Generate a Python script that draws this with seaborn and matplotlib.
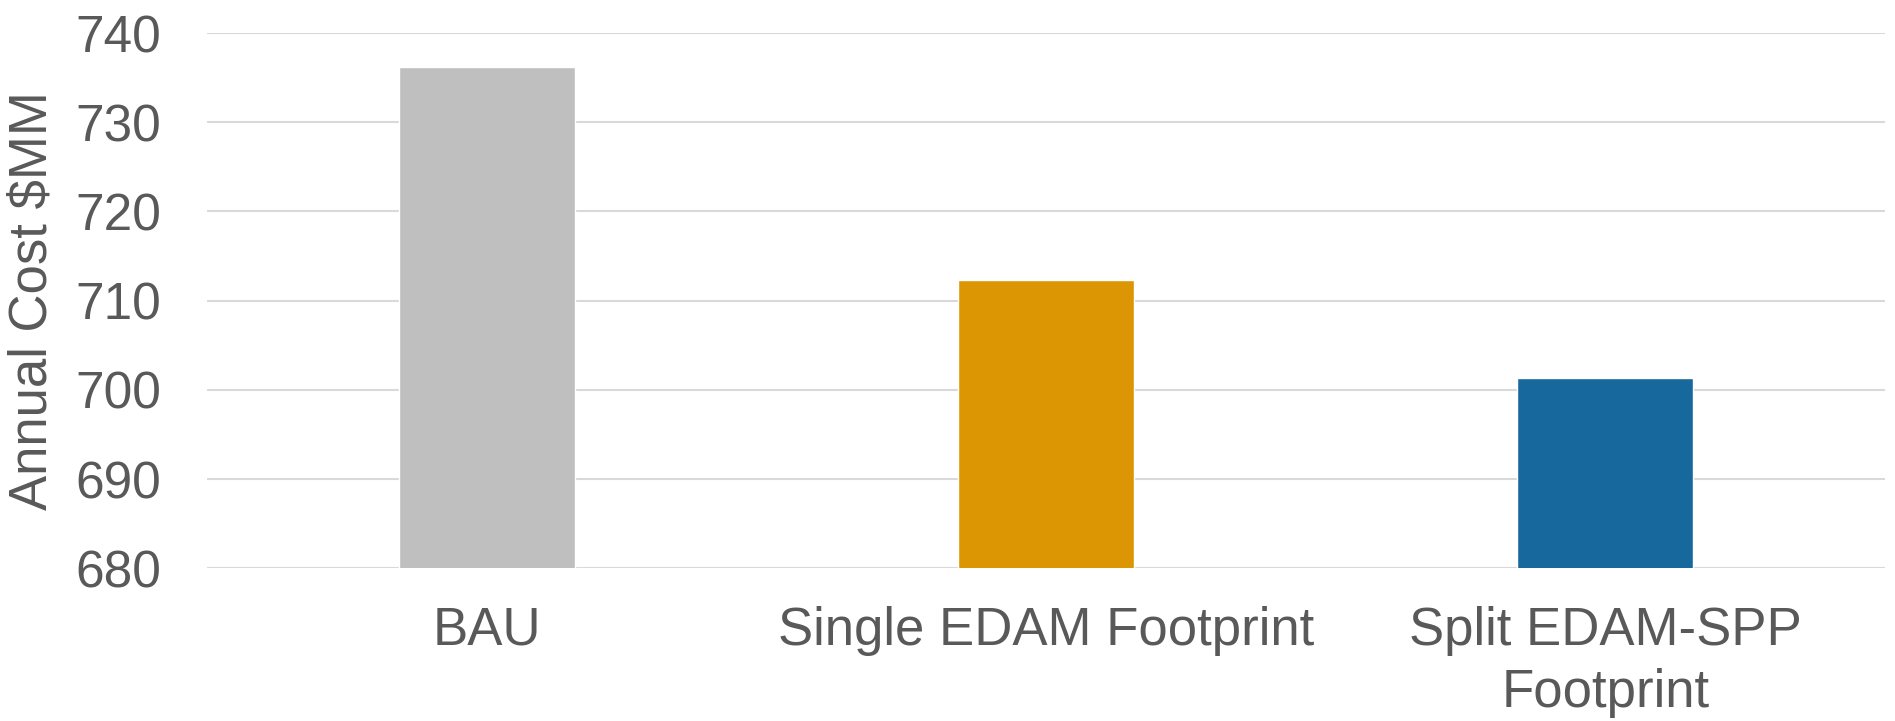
import matplotlib
matplotlib.use("Agg")
import matplotlib.pyplot as plt
import pandas as pd
import seaborn as sns

categories = ["BAU", "Single EDAM Footprint", "Split EDAM-SPP\nFootprint"]
annual_cost = [736.2, 712.3, 701.35]
bar_colors = ["#BFBFBF", "#DD9603", "#17699D"]
y_ticks = [680, 690, 700, 710, 720, 730, 740]

sns.set_theme(style="white")
plt.rcParams["font.family"] = ["Liberation Sans", "DejaVu Sans"]
text_color = "#595959"

df = pd.DataFrame({"scenario": categories, "cost": annual_cost})

fig = plt.figure(figsize=(18.95, 7.21), dpi=100)
ax = fig.add_axes([0.1092, 0.2118, 0.8855, 0.7424])
sns.barplot(data=df, x="scenario", y="cost", hue="scenario", palette=bar_colors,
            width=0.315, legend=False, saturation=1, ax=ax, zorder=3)

ax.set_ylim(680, 740)
ax.set_xlim(-0.5, 2.5)
ax.set_yticks(y_ticks)
ax.grid(axis="y", color="#D9D9D9", linewidth=1.5, zorder=0)
ax.set_axisbelow(True)
for side in ["top", "right", "left", "bottom"]:
    ax.spines[side].set_visible(False)

ax.tick_params(axis="y", length=0, pad=33, labelsize=37, labelcolor=text_color)
ax.tick_params(axis="x", length=0, pad=27, labelsize=38, labelcolor=text_color)
for lbl in ax.get_xticklabels():
    lbl.set_linespacing(1.32)
ax.set_xlabel("")
ax.set_ylabel("Annual Cost $MM", fontsize=38, color=text_color, labelpad=13)

fig.savefig("out.png", dpi=100)
